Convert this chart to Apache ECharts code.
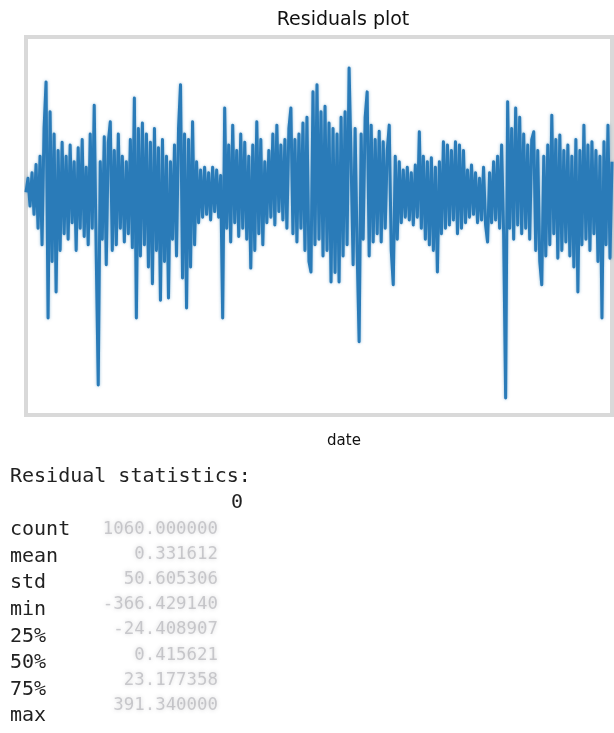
<!DOCTYPE html>
<html>
<head>
<meta charset="utf-8">
<script src="https://cdn.jsdelivr.net/npm/echarts@6/dist/echarts.min.js"></script>
<style>
  html, body { margin: 0; padding: 0; background: #ffffff; }
  #chart { width: 614px; height: 733px; }
</style>
</head>
<body>
<div id="chart"></div>
<script>
// Model residuals, one reading per step along the date axis
const residuals = [
  5, 30, -20, 40, -35, 55, -60, 70, -90, 120,
  204, -222, 150, -120, 110, -175, 80, -100, 95, -70,
  70, -80, 90, -50, 60, -100, 85, -60, 100, -75,
  50, -90, 110, -60, 162, -110, -343, 60, -80, 105,
  -126, 95, 132, -100, 80, -90, 110, -60, 70, -85,
  60, -70, 100, -95, 175, -222, 120, -110, 130, -90,
  110, -130, 95, -160, 120, -100, 85, -190, 100, -120,
  70, -186, 60, -80, 90, -110, 120, 199, -150, 110,
  -204, 100, -130, 132, -90, 60, -50, 45, -40, 50,
  -35, 40, -45, 50, -30, 45, -40, 35, -222, 157,
  -60, 90, -85, 126, -50, 80, -75, 110, -60, 95,
  -80, 70, -132, 90, -100, 132, -70, 100, -90, 60,
  -50, 80, -40, 110, -54, 126, -30, 90, -45, 100,
  -60, 120, 157, -70, 100, -85, 110, -60, 130, -100,
  140, -120, -139, 186, -90, 199, -80, 150, -110, 160,
  -100, 130, -157, 120, -140, 110, -157, 140, -110, 150,
  -90, 229, 60, -126, 120, -100, -265, 110, -80, 140,
  186, -110, 126, -85, 100, -70, 115, -85, 96, -60,
  80, 126, -100, -162, 70, -80, 60, -50, 45, -40,
  50, -45, 40, -54, 54, -40, 114, -60, 70, -80,
  60, -90, 67, -100, 50, -139, 60, -70, 96, -60,
  90, -54, 80, -45, 96, -70, 90, -60, 80, -50,
  45, -40, 54, -35, 40, -50, 30, -45, 50, -54,
  -85, 40, -50, 60, -45, 70, -60, 90, -70, -366.43,
  168, -60, 120, -80, 157, -54, 140, -70, 110, -60,
  90, -80, 100, 114, -100, 80, -120, -162, 70, -110,
  90, -90, 144, -70, 100, -114, 108, -100, 80, -85,
  90, -110, 70, -130, 100, -175, 80, -90, 126, -80,
  90, -100, 96, -70, 80, -120, 70, -222, 96, -90,
  126, -114, 60
];

// Half-year boundaries along the date axis (in step index units)
const dateTicks = [50, 101, 151, 202, 251];

// Summary table printed under the plot
const statNames = ['count', 'mean', 'std', 'min', '25%', '50%', '75%', 'max'];
const statValues = ['1060.000000', '0.331612', '50.605306', '-366.429140',
                    '-24.408907', '0.415621', '23.177358', '391.340000'];

const chart = echarts.init(document.getElementById('chart'), null, { renderer: 'canvas' });

const mono = '"DejaVu Sans Mono", "Liberation Mono", monospace';
const sans = '"DejaVu Sans", "Liberation Sans", sans-serif';

const graphics = [
  {
    type: 'text',
    style: { x: 343, y: 20, text: 'Residuals plot', font: '19px ' + sans,
             fill: '#111111', align: 'center', verticalAlign: 'middle' }
  },
  {
    type: 'text',
    style: { x: 344, y: 441, text: 'date', font: '15px ' + sans,
             fill: '#111111', align: 'center', verticalAlign: 'middle' }
  },
  {
    type: 'text',
    style: { x: 10, y: 477, text: 'Residual statistics:', font: '20px ' + mono,
             fill: '#222222', align: 'left', verticalAlign: 'middle' }
  },
  {
    type: 'text',
    style: { x: 243, y: 503, text: '0', font: '20px ' + mono,
             fill: '#222222', align: 'right', verticalAlign: 'middle' }
  }
];

statNames.forEach((name, k) => {
  graphics.push({
    type: 'text',
    style: { x: 10, y: 530 + k * 26.6, text: name, font: '20px ' + mono,
             fill: '#222222', align: 'left', verticalAlign: 'middle' }
  });
});

// The printed numbers are soft and greyed out
statValues.forEach((val, k) => {
  graphics.push({
    type: 'text',
    style: { x: 218, y: 529 + k * 25.2, text: val, font: '17.4px ' + mono,
             fill: 'rgba(120,120,128,0.35)', align: 'right', verticalAlign: 'middle',
             textShadowColor: 'rgba(120,120,128,0.9)', textShadowBlur: 4 }
  });
});

chart.setOption({
  animation: false,
  backgroundColor: '#ffffff',
  grid: {
    left: 26, right: 2, top: 37, bottom: 318,
    show: true, borderColor: '#d9d9d9', borderWidth: 4, backgroundColor: '#ffffff'
  },
  xAxis: {
    type: 'value', min: 0, max: residuals.length - 1,
    splitLine: { show: false },
    axisLine: { show: false },
    axisLabel: { show: false },
    axisTick: { show: true, customValues: dateTicks, length: 4, inside: false,
                lineStyle: { color: '#c8c8c8', width: 2 } }
  },
  yAxis: {
    type: 'value', min: -397, max: 285,
    splitLine: { show: false },
    axisLine: { show: false },
    axisLabel: { show: false },
    axisTick: { show: false }
  },
  series: [{
    type: 'line',
    data: residuals.map((v, i) => [i, v]),
    showSymbol: false,
    symbol: 'none',
    clip: true,
    lineStyle: { color: '#2a7bb8', width: 3, join: 'round',
                 shadowColor: 'rgba(31,119,180,0.5)', shadowBlur: 3 }
  }],
  graphic: graphics
});
</script>
</body>
</html>
